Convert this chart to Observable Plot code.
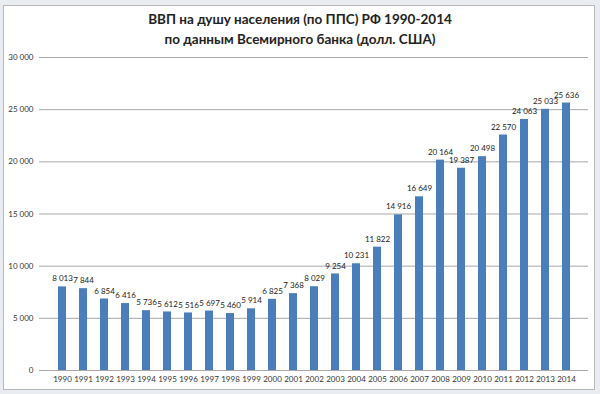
<!DOCTYPE html>
<html><head><meta charset="utf-8">
<script src="https://cdn.jsdelivr.net/npm/d3@7"></script>
<script src="https://cdn.jsdelivr.net/npm/@observablehq/plot@0.6"></script>
<style>
html,body{margin:0;padding:0;background:#e9edf1;}
#wrap{position:relative;width:600px;height:394px;overflow:hidden;}
#frame{position:absolute;left:3px;top:5px;width:592px;height:385px;background:#fff;border:1px solid #b8b8b8;box-sizing:border-box;}
#title{position:absolute;left:0;top:9px;width:600px;text-align:center;font-family:Lato,"Open Sans",sans-serif;font-weight:bold;font-size:13.5px;line-height:20px;color:#222;}
#chart{position:absolute;left:0;top:48px;}
</style></head>
<body>
<div id="wrap"><div id="frame"></div>
<div id="title">ВВП на душу населения (по ППС) РФ 1990-2014<br>по данным Всемирного банка (долл. США)</div>
<div id="chart"></div></div>
<script>
const years = [1990,1991,1992,1993,1994,1995,1996,1997,1998,1999,2000,2001,2002,2003,2004,2005,2006,2007,2008,2009,2010,2011,2012,2013,2014];
const values = [8013,7844,6854,6416,5736,5612,5516,5697,5460,5914,6825,7368,8029,9254,10231,11822,14916,16649,20164,19387,20498,22570,24063,25033,25636];
const yTicks = [0,5000,10000,15000,20000,25000,30000];
const data = years.map((y,i)=>({year:String(y), value:values[i]}));
const fmt = v => d3.format(",")(v).replace(/,/g," ");
const chart = Plot.plot({
  width:600, height:346,
  marginTop:9, marginBottom:24, marginLeft:39, marginRight:12,
  style:{fontFamily:"Lato, 'Open Sans', sans-serif", fontSize:"8px", color:"#333", background:"transparent"},
  x:{domain:data.map(d=>d.year), padding:0.62, label:null, tickSize:0, tickPadding:6},
  y:{domain:[0,30000], ticks:yTicks, tickFormat:fmt, label:null, tickSize:0, tickPadding:6},
  marks:[
    Plot.gridY(yTicks, {stroke:"#a8a8a8", strokeOpacity:1, strokeWidth:1}),
    Plot.ruleX([0], {frameAnchor:"left", stroke:"#a8a8a8"}),
    Plot.barY(data, {x:"year", y:"value", fill:"#4a7ebb"}),
    Plot.text(data, {x:"year", y:"value", text:d=>fmt(d.value), dy:-8, fill:"#222", fontSize:8})
  ]
});
document.getElementById("chart").appendChild(chart);
</script>
</body></html>
